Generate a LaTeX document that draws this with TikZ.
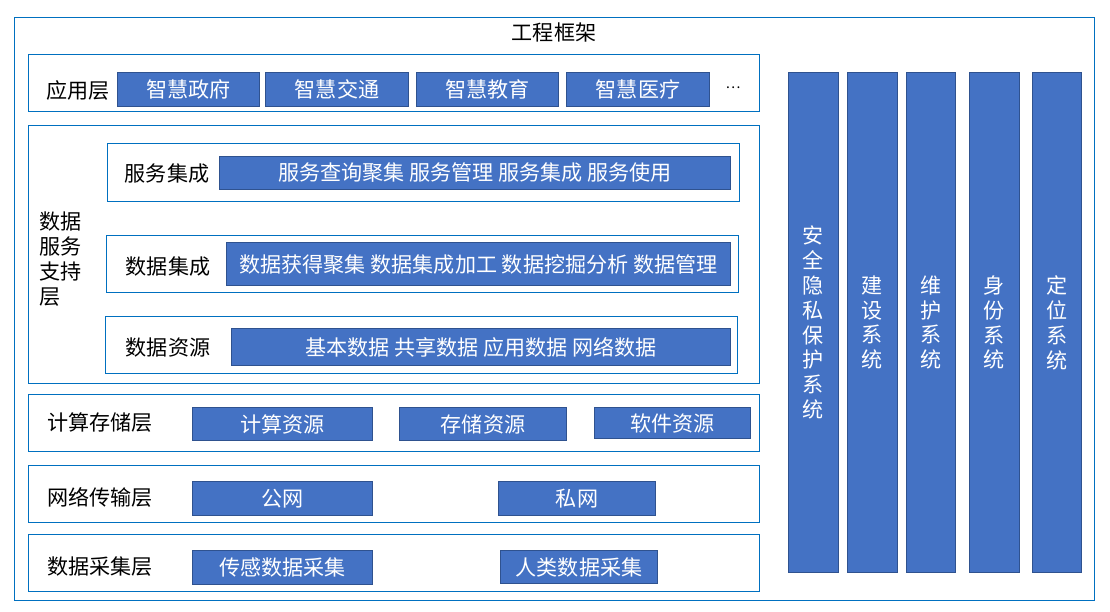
\documentclass[tikz,border=0pt]{standalone}
\usepackage{fontspec}
\setmainfont{Noto Sans CJK SC}
\usepackage{tikz}
\usetikzlibrary{positioning,calc}
\usepackage{xcolor}
\definecolor{framecol}{RGB}{0,112,192}
\definecolor{itemcol}{RGB}{68,114,196}
\definecolor{itemdraw}{RGB}{47,82,143}

\begin{document}
\begin{tikzpicture}[
    x=0.02cm, y=-0.02cm,
    layerbox/.style={draw=framecol, line width=0.7pt, anchor=north west, inner sep=0pt,
                     minimum width=14.62cm, minimum height=1.14cm},
    subbox/.style={draw=framecol, line width=0.7pt, anchor=north west, inner sep=0pt,
                   minimum width=12.64cm, minimum height=1.14cm},
    itembox/.style={draw=itemdraw, fill=itemcol, line width=0.6pt, anchor=north west, inner sep=0pt,
                    text=white, font=\fontsize{12}{14.2}\selectfont, minimum height=0.66cm},
    barbox/.style={draw=itemdraw, fill=itemcol, line width=0.6pt, anchor=north west, inner sep=0pt,
                   minimum height=10.0cm, minimum width=1.0cm},
    bartext/.style={text=white, align=center, inner sep=0pt, font=\fontsize{12}{14.2}\selectfont},
    lbl/.style={font=\fontsize{12}{14.2}\selectfont, inner sep=0pt},
]
\useasboundingbox (0,0) rectangle (1110,612);

% ============ OUTER FRAME ============
\node[draw=framecol, line width=0.7pt, anchor=north west, minimum width=21.6cm, minimum height=11.66cm,
      inner sep=0pt] (frame) at (14,17) {};
\node[lbl] (title) at (554,32) {工程框架};

% ============ APPLICATION LAYER ============
\node[layerbox] (app) at (28,54) {};
\node[lbl] (applbl) at (78,90) {应用层};
\node[itembox, minimum width=2.84cm, minimum height=0.68cm] (gov) at (117,72) {智慧政府};
\node[itembox, minimum width=2.86cm, minimum height=0.68cm] (traffic) at (265,72) {智慧交通};
\node[itembox, minimum width=2.84cm, minimum height=0.68cm] (edu) at (416,72) {智慧教育};
\node[itembox, minimum width=2.86cm, minimum height=0.68cm] (med) at (566,72) {智慧医疗};
\node[lbl, font=\fontsize{8}{10}\selectfont] (more) at (733,88) {…};

% ============ DATA SERVICE SUPPORT LAYER ============
\node[layerbox, minimum height=5.16cm] (dss) at (28,125) {};
\node[lbl, align=left, anchor=west] (dsslbl) at (39,259) {数据\\服务\\支持\\层};

% service integration
\node[subbox, minimum height=1.16cm] (svc) at (107,143) {};
\node[lbl] (svclbl) at (167,174) {服务集成};
\node[itembox, minimum width=10.22cm] (svcitem) at (219,156) {服务查询聚集 服务管理 服务集成 服务使用};

% data integration
\node[subbox] (dint) at (106,235) {};
\node[lbl] (dintlbl) at (168,267) {数据集成};
\node[itembox, minimum width=10.08cm, minimum height=0.86cm] (dintitem) at (226,242) {数据获得聚集 数据集成加工 数据挖掘分析 数据管理};

% data resources
\node[subbox] (dres) at (105,316) {};
\node[lbl] (dreslbl) at (168,348) {数据资源};
\node[itembox, minimum width=9.98cm, minimum height=0.74cm] (dresitem) at (231,328) {基本数据 共享数据 应用数据 网络数据};

% ============ COMPUTE & STORAGE LAYER ============
\node[layerbox] (comp) at (28,394) {};
\node[lbl] (complbl) at (100,423) {计算存储层};
\node[itembox, minimum width=3.6cm] (cpu) at (192,407) {计算资源};
\node[itembox, minimum width=3.34cm] (store) at (399,407) {存储资源};
\node[itembox, minimum width=3.12cm, minimum height=0.62cm] (soft) at (594,407) {软件资源};

% ============ NETWORK LAYER ============
\node[layerbox] (net) at (28,465) {};
\node[lbl] (netlbl) at (100,497) {网络传输层};
\node[itembox, minimum width=3.6cm, minimum height=0.68cm] (pub) at (192,481) {公网};
\node[itembox, minimum width=3.14cm, minimum height=0.68cm] (priv) at (498,481) {私网};

% ============ DATA COLLECTION LAYER ============
\node[layerbox] (coll) at (28,534) {};
\node[lbl] (colllbl) at (100,567) {数据采集层};
\node[itembox, minimum width=3.6cm, minimum height=0.68cm] (sensor) at (192,550) {传感数据采集};
\node[itembox, minimum width=3.14cm] (human) at (500,550) {人类数据采集};

% ============ RIGHT: SUPPORT SYSTEMS ============
\node[barbox] (sec) at (788,72) {};
\node[bartext] at (sec.center) {安\\全\\隐\\私\\保\\护\\系\\统};
\node[barbox] (build) at (847,72) {};
\node[bartext] at (build.center) {建\\设\\系\\统};
\node[barbox, minimum width=0.98cm] (maint) at (906,72) {};
\node[bartext] at (maint.center) {维\\护\\系\\统};
\node[barbox] (ident) at (969,72) {};
\node[bartext] at (ident.center) {身\\份\\系\\统};
\node[barbox, minimum width=0.98cm] (loc) at (1032,72) {};
\node[bartext] at (loc.center) {定\\位\\系\\统};

\end{tikzpicture}
\end{document}
